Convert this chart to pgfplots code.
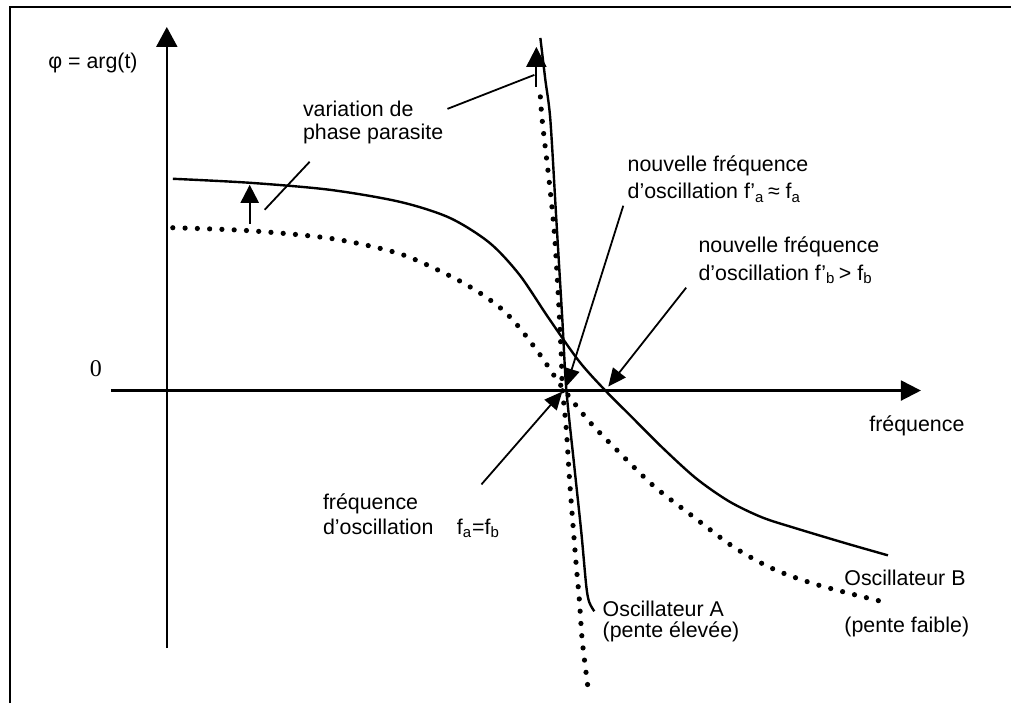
\documentclass[border=0pt]{standalone}
\usepackage{fontspec}
\setmainfont{Liberation Sans}
\newfontfamily\serifnum{Liberation Serif}
\usepackage{pgfplots}
\pgfplotsset{compat=1.18}
\usetikzlibrary{arrows.meta}
\begin{document}
\begin{tikzpicture}
\begin{axis}[
  width=506pt, height=352pt, scale only axis,
  xmin=0, xmax=1012, ymin=0, ymax=704, y dir=reverse,
  axis lines=none, clip=false,
  every axis plot/.append style={black},
]
% invisible extent
\addplot[draw=none, mark=none] coordinates {(0,0) (1012,704)};
% frame
\addplot[line width=1.2pt] coordinates {(10,704) (10,7) (1012,7)};
% axes
\addplot[line width=1.1pt, -{Triangle[length=10pt,width=10.5pt]}] coordinates {(167,649) (167,27)};
\addplot[line width=1.1pt, -{Triangle[length=10pt,width=10pt]}] coordinates {(111,391) (922,391)};
% Oscillateur B solid
\addplot[line width=1.2pt, smooth, tension=0.5] coordinates {
(173,179) (250,183) (330,190) (400,202) (450,218) (490,243) (520,275) (549,318) (580,362) (607,392) (630,415) (663,448) (697,479) (730,502) (763,518) (797,529) (847,544) (889,556)};
% Oscillateur B dotted
\addplot[line width=2.6pt, line cap=round, dash pattern=on 0pt off 6.15pt, smooth, tension=0.5] coordinates {
(173,228) (250,231) (333,239) (400,254) (450,276) (480,293) (503,310) (520,328) (542,357) (563,388) (590,422) (620,453) (655,487) (695,518) (735,548) (775,570) (820,586) (886,603)};
% Oscillateur A solid
\addplot[line width=1.2pt, smooth, tension=0.5] coordinates {
(541,38) (546,80) (551,120) (557,220) (563,320) (567,390) (575,467) (582,533) (587,587) (590,603) (595,612)};
% Oscillateur A dotted
\addplot[line width=2.6pt, line cap=round, dash pattern=on 0pt off 6.15pt, smooth, tension=0.5] coordinates {
(541,97) (543,122) (550,183) (555,233) (559,297) (562,357) (563,388) (567,430) (570,477) (573,517) (577,567) (580,600) (583,642) (589,691)};
% small arrows
\addplot[line width=1.1pt, -{Triangle[length=9pt,width=9pt]}] coordinates {(250,224) (250,185)};
\addplot[line width=1.1pt, -{Triangle[length=10pt,width=10pt]}] coordinates {(537,87) (537,47)};
\addplot[line width=0.9pt, -{Triangle[length=9pt,width=8pt]}] coordinates {(624,206) (567,387)};
\addplot[line width=0.9pt, -{Triangle[length=9pt,width=8pt]}] coordinates {(687,288) (609,387)};
\addplot[line width=0.9pt, -{Triangle[length=9pt,width=8pt]}] coordinates {(482,485) (563,392)};
% leaders
\addplot[line width=0.9pt] coordinates {(265,210) (310,162)};
\addplot[line width=0.9pt] coordinates {(448,109) (535,75)};
% texts
\begin{scope}[every node/.style={anchor=base west, inner sep=0pt, font=\fontsize{10.7}{12}\selectfont}]
\node at (48,69) {φ = arg(t)};
\node at (303,117) {variation de};
\node at (303,140) {phase parasite};
\node at (628,172) {nouvelle fréquence};
\node at (628,199) {d’oscillation f’\textsubscript{a}\,≈ f\textsubscript{a}};
\node at (699,253) {nouvelle fréquence};
\node at (699,281) {d’oscillation f’\textsubscript{b}\,> f\textsubscript{b}};
\node at (870,432) {fréquence};
\node at (323,510) {fréquence};
\node at (323,535) {d’oscillation};
\node at (457,535) {f\textsubscript{a}=f\textsubscript{b}};
\node at (603,617) {Oscillateur A};
\node at (603,638) {(pente élevée)};
\node at (845,586) {Oscillateur B};
\node at (845,633) {(pente faible)};
\node[font=\serifnum\fontsize{12}{12}\selectfont, anchor=base] at (96,377) {0};
\end{scope}
\end{axis}
\end{tikzpicture}
\end{document}
